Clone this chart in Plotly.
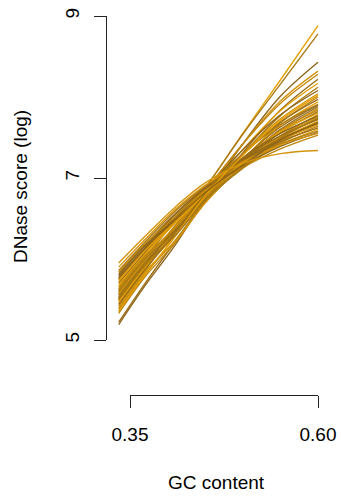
import plotly.graph_objects as go

# x positions (GC content) at which each curve's value was read
gc_knots = [0.335, 0.37, 0.41, 0.45, 0.50, 0.55, 0.60]

# values of every curve at each knot (one entry per curve)
y_at_0335 = [5.50, 5.56, 5.19, 5.35, 5.42, 5.22, 5.48, 5.38, 5.50, 5.45,
             5.33, 5.58, 5.47, 5.62, 5.52, 5.40, 5.60, 5.55, 5.66, 5.50,
             5.70, 5.57, 5.63, 5.75, 5.68, 5.60, 5.78, 5.72, 5.65, 5.82,
             5.74, 5.86, 5.80, 5.90, 5.84, 5.44, 5.36, 5.53, 5.76, 5.95]
y_at_037 = [5.92, 5.97, 5.67, 5.80, 5.86, 5.70, 5.90, 5.82, 5.92, 5.88,
            5.78, 5.98, 5.90, 6.02, 5.94, 5.84, 6.00, 5.96, 6.05, 5.92,
            6.08, 5.98, 6.02, 6.12, 6.06, 6.00, 6.14, 6.10, 6.04, 6.18,
            6.11, 6.21, 6.16, 6.24, 6.19, 5.87, 5.81, 5.94, 6.13, 6.28]
y_at_041 = [6.38, 6.41, 6.17, 6.28, 6.36, 6.21, 6.34, 6.23, 6.39, 6.33,
            6.20, 6.39, 6.29, 6.46, 6.36, 6.22, 6.40, 6.34, 6.49, 6.29,
            6.50, 6.39, 6.38, 6.52, 6.44, 6.33, 6.55, 6.46, 6.38, 6.56,
            6.47, 6.59, 6.50, 6.61, 6.52, 6.32, 6.28, 6.29, 6.48, 6.64]
y_at_045 = [6.87, 6.88, 6.75, 6.82, 6.84, 6.70, 6.81, 6.73, 6.85, 6.80,
            6.70, 6.82, 6.76, 6.86, 6.77, 6.69, 6.82, 6.79, 6.86, 6.73,
            6.87, 6.81, 6.80, 6.88, 6.80, 6.74, 6.88, 6.84, 6.78, 6.89,
            6.83, 6.90, 6.86, 6.91, 6.85, 6.80, 6.78, 6.72, 6.82, 6.94]
y_at_050 = [7.55, 7.54, 7.42, 7.42, 7.42, 7.31, 7.35, 7.29, 7.35, 7.30,
            7.22, 7.29, 7.23, 7.30, 7.21, 7.16, 7.23, 7.20, 7.25, 7.15,
            7.25, 7.19, 7.17, 7.24, 7.16, 7.12, 7.22, 7.17, 7.12, 7.21,
            7.14, 7.20, 7.15, 7.20, 7.13, 7.24, 7.28, 7.13, 7.16, 7.18]
y_at_055 = [8.21, 8.16, 8.01, 7.95, 7.92, 7.84, 7.83, 7.77, 7.78, 7.73,
            7.68, 7.69, 7.65, 7.66, 7.60, 7.57, 7.59, 7.56, 7.57, 7.52,
            7.55, 7.52, 7.50, 7.52, 7.48, 7.45, 7.48, 7.46, 7.43, 7.45,
            7.41, 7.42, 7.39, 7.41, 7.36, 7.63, 7.71, 7.49, 7.47, 7.30]
y_at_060 = [8.88, 8.78, 8.43, 8.32, 8.28, 8.22, 8.17, 8.12, 8.08, 8.04,
            8.00, 7.97, 7.94, 7.91, 7.88, 7.86, 7.84, 7.82, 7.80, 7.78,
            7.76, 7.75, 7.73, 7.72, 7.70, 7.69, 7.67, 7.66, 7.64, 7.62,
            7.60, 7.58, 7.56, 7.55, 7.53, 7.90, 8.02, 7.74, 7.68, 7.34]

y_ticks = [5, 7, 9]
x_ticks = [0.35, 0.60]
x_tick_labels = ["0.35", "0.60"]

palette = ["#E69F00", "#A87812", "#8E6418", "#D4930A", "#BF850C", "#9A6C16"]

W, H = 341, 498
FONT = "Liberation Sans, Arial, Helvetica, sans-serif"

fig = go.Figure()
columns = [y_at_0335, y_at_037, y_at_041, y_at_045, y_at_050, y_at_055, y_at_060]
for i in range(len(y_at_0335)):
    fig.add_trace(go.Scatter(
        x=gc_knots, y=[c[i] for c in columns], mode="lines",
        line=dict(color=palette[i % len(palette)], width=1.35, shape="spline", smoothing=1.0),
        hoverinfo="skip", showlegend=False, xaxis="x", yaxis="y"))

# invisible trace to carry the offset x axis
fig.add_trace(go.Scatter(x=x_ticks, y=[y_ticks[0], y_ticks[0]], mode="lines",
                         line=dict(width=0), opacity=0, hoverinfo="skip",
                         showlegend=False, xaxis="x2", yaxis="y"))

px = lambda p: p / W
py = lambda p: 1 - p / H

fig.update_layout(
    template="none",
    width=W, height=H, margin=dict(l=0, r=0, t=0, b=0, pad=0, autoexpand=False),
    paper_bgcolor="white", plot_bgcolor="rgba(0,0,0,0)",
    font=dict(family=FONT, size=19, color="black"),
    xaxis=dict(domain=[px(107), px(330)], range=[0.35 - 23 / 752, 0.60 + 12 / 752],
               visible=False, fixedrange=True, automargin=False),
    xaxis2=dict(domain=[px(130), px(318)], range=[0.35, 0.60], anchor="free",
                position=py(395), showline=True, linecolor="#222", linewidth=1,
                ticks="outside", ticklen=12, tickwidth=1, tickcolor="#222",
                tickmode="array", tickvals=x_ticks, ticktext=x_tick_labels,
                showgrid=False, zeroline=False, ticklabelstandoff=10,
                fixedrange=True, automargin=False),
    yaxis=dict(domain=[py(340), py(16)], range=[5, 9], anchor="x",
               showline=True, linecolor="#222", linewidth=1,
               ticks="outside", ticklen=12, tickwidth=1, tickcolor="#222",
               tickvals=y_ticks, tickangle=-90, showgrid=False, zeroline=False,
               ticklabelstandoff=7, fixedrange=True, automargin=False),
    annotations=[
        dict(text="GC content", x=px(216), y=py(482), xref="paper", yref="paper",
             showarrow=False, xanchor="center", yanchor="middle", font=dict(size=19)),
        dict(text="DNase score (log)", x=px(20), y=py(187), xref="paper", yref="paper",
             showarrow=False, textangle=-90, xanchor="center", yanchor="middle",
             font=dict(size=19)),
    ],
)

fig.write_html("out.html", config={"displayModeBar": False},
               post_script="document.body.style.margin='0';document.body.style.overflow='hidden';")
